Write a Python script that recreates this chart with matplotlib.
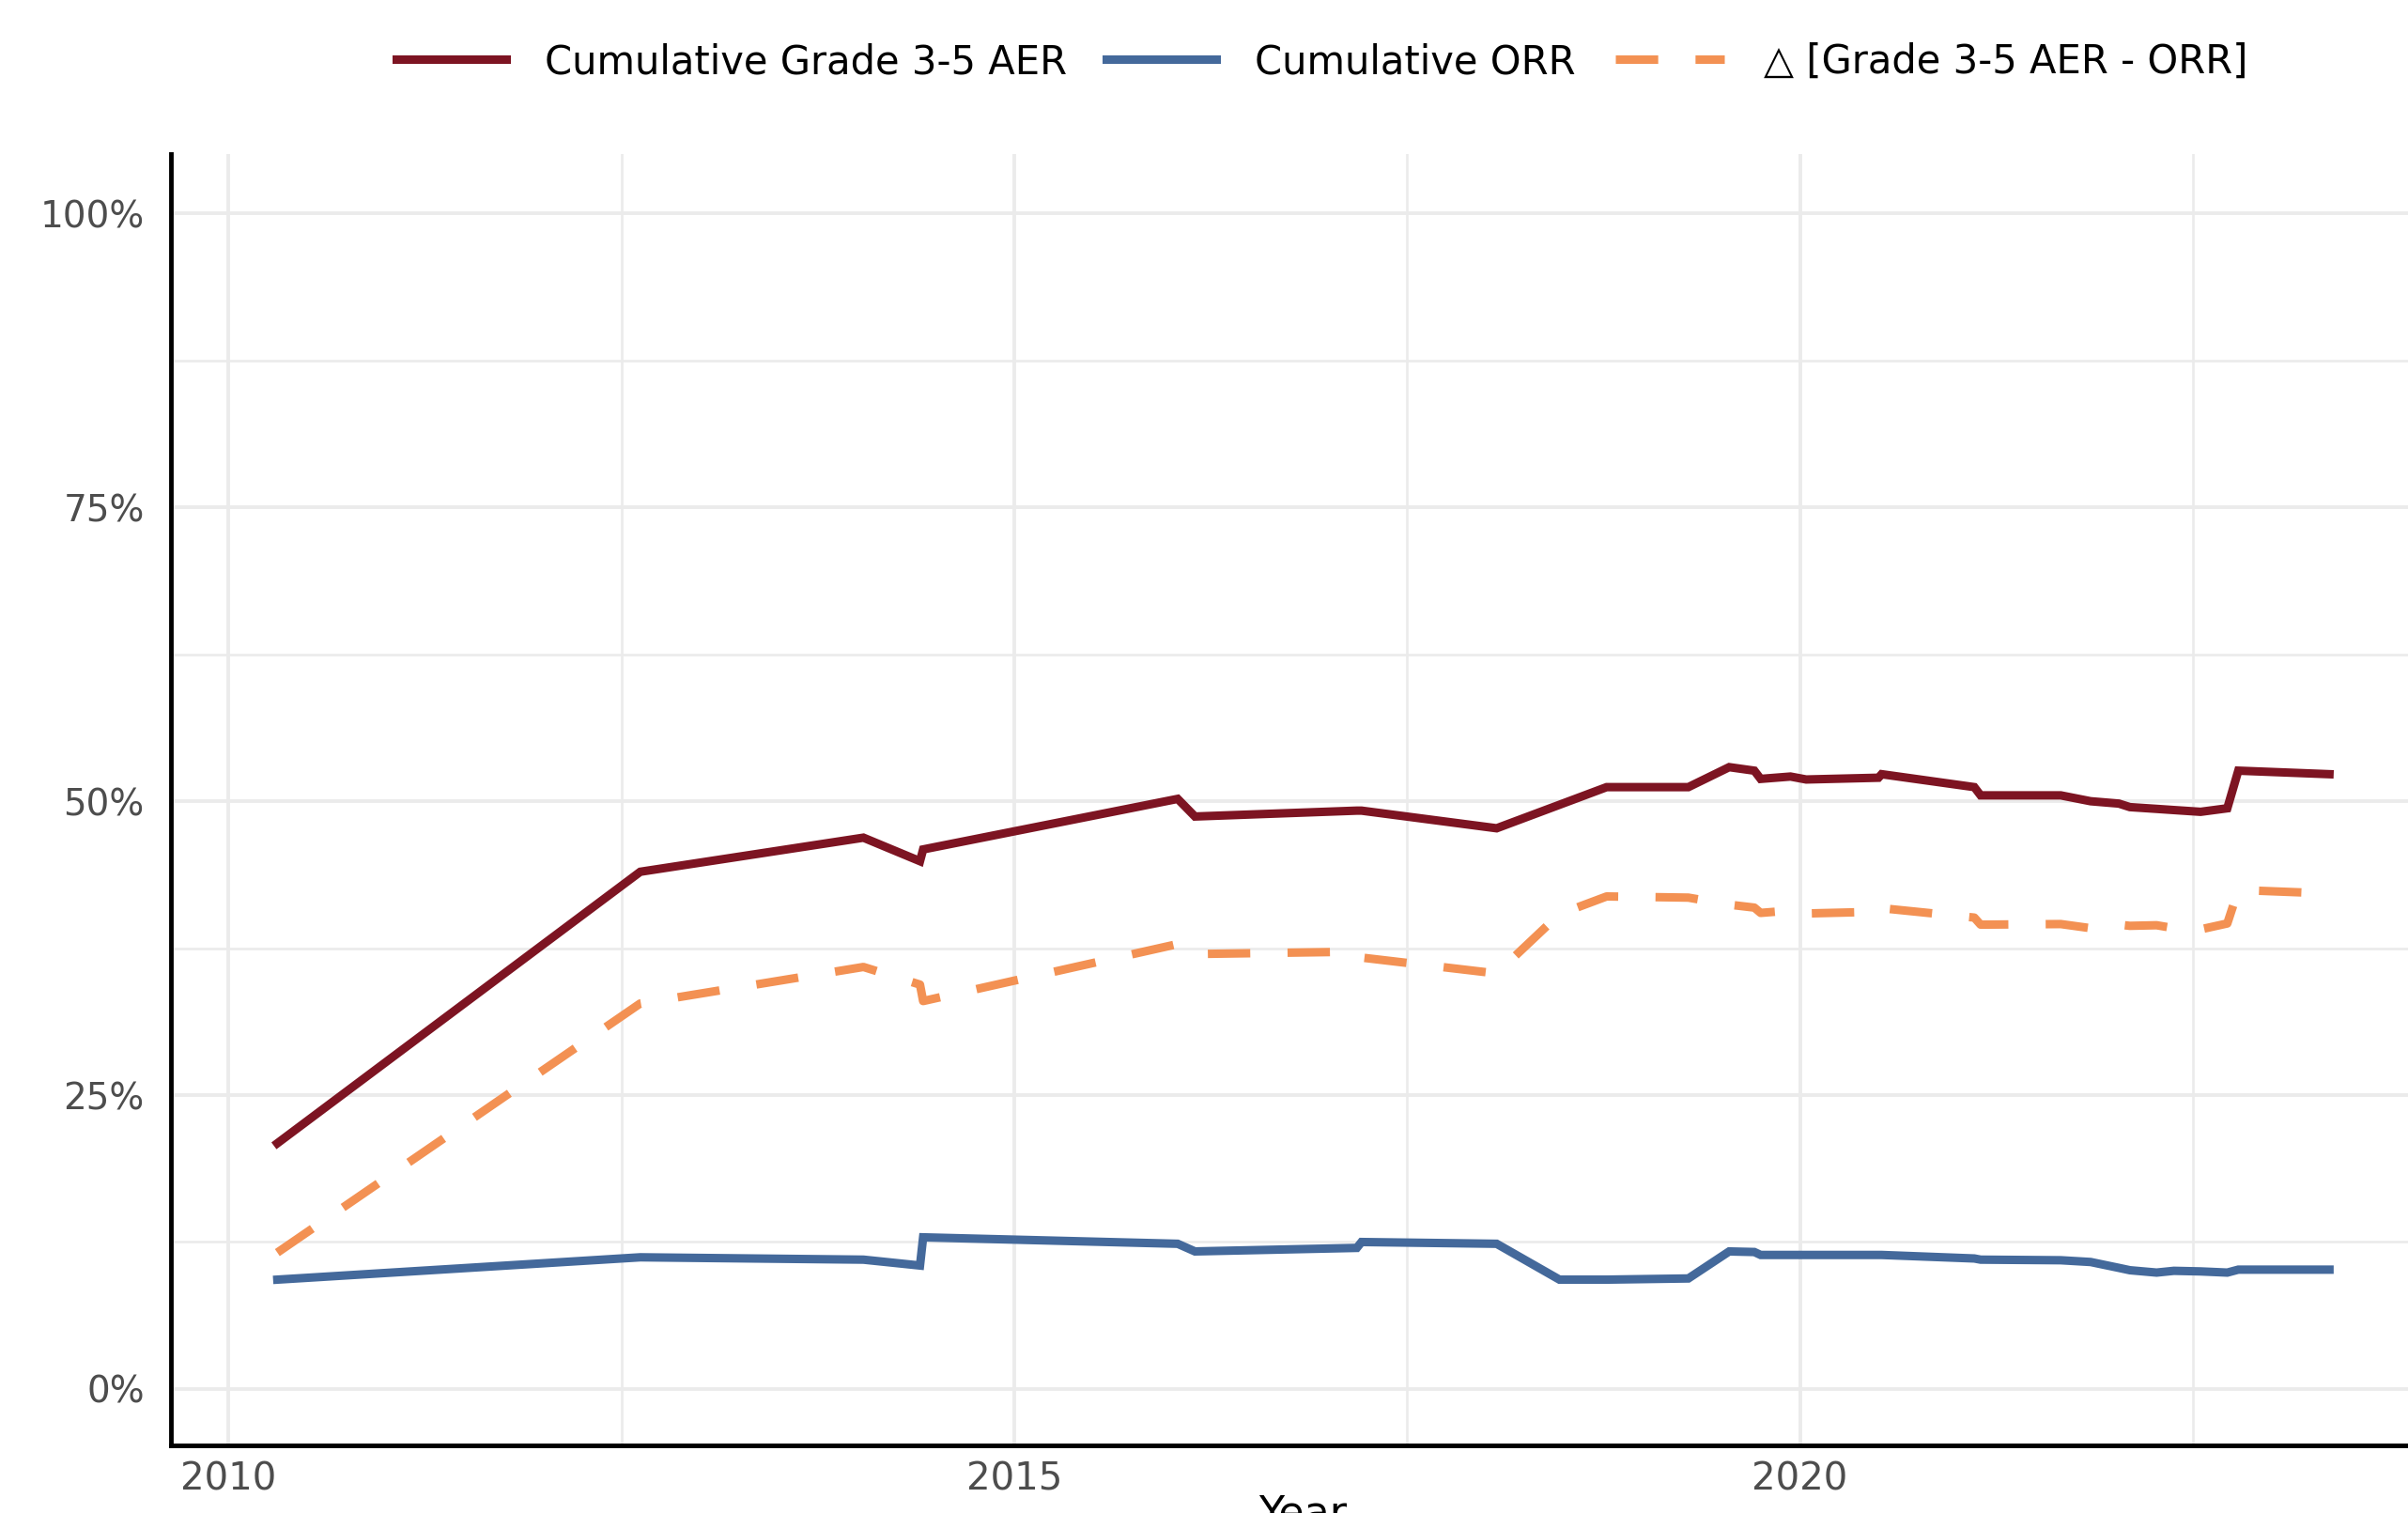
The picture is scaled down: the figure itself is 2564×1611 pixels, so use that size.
#!/usr/bin/env python3
# -*- coding: utf-8 -*-

import matplotlib
matplotlib.use('Agg')
import matplotlib.pyplot as plt
from matplotlib.ticker import FixedLocator, FuncFormatter

# Time points shared by the three series (decimal years)
years = [2010.31, 2012.62, 2014.04, 2014.40, 2014.42, 2016.04, 2016.15,
         2017.18, 2017.21, 2018.07, 2018.47, 2018.77, 2019.29, 2019.55,
         2019.71, 2019.75, 2019.94, 2020.04, 2020.50, 2020.52, 2021.11,
         2021.15, 2021.66, 2021.85, 2022.03, 2022.10, 2022.27, 2022.38,
         2022.55, 2022.72, 2022.79, 2023.37]

# Cumulative Grade 3-5 AER (%)
aer = [20.9, 44.0, 46.9, 44.9, 45.9, 50.2, 48.7,
       49.2, 49.2, 47.7, 49.7, 51.2, 51.2, 52.9,
       52.6, 51.9, 52.1, 51.85, 52.0, 52.3, 51.2,
       50.5, 50.5, 50.0, 49.8, 49.5, 49.35, 49.25,
       49.1, 49.4, 52.6, 52.3]

# Cumulative ORR (%)
orr = [9.3, 11.2, 11.0, 10.5, 12.9, 12.35, 11.7,
       12.0, 12.5, 12.35, 9.3, 9.3, 9.4, 11.7,
       11.65, 11.4, 11.4, 11.4, 11.4, 11.4, 11.1,
       11.0, 10.95, 10.8, 10.3, 10.1, 9.9, 10.05,
       10.0, 9.9, 10.15, 10.15]

# Difference AER - ORR (%)
delta = [11.6, 32.8, 35.9, 34.4, 33.0, 37.85, 37.0,
         37.2, 36.7, 35.35, 40.4, 41.9, 41.8, 41.2,
         40.95, 40.5, 40.7, 40.45, 40.6, 40.9, 40.1,
         39.5, 39.55, 39.2, 39.5, 39.4, 39.45, 39.2,
         39.1, 39.6, 42.45, 42.15]

x_ticks = [2010, 2015, 2020]
y_ticks = [0, 25, 50, 75, 100]

aer_color = "#7d1422"
orr_color = "#44699b"
delta_color = "#f39153"
grid_color = "#ebebeb"
label_color = "#4d4d4d"

fig = plt.figure(figsize=(25.64, 16.11), dpi=100)
ax = fig.add_axes([0.0708, 0.0447, 0.9292, 0.8538])

ax.plot(years, aer, color=aer_color, lw=6.5, solid_joinstyle="miter",
        label="Cumulative Grade 3-5 AER")
ax.plot(years, orr, color=orr_color, lw=6.5, solid_joinstyle="miter",
        label="Cumulative ORR")
ax.plot(years, delta, color=delta_color, lw=6.5, dashes=(5.0, 4.4),
        label="\u25b3 [Grade 3-5 AER - ORR]")

ax.set_xlim(2009.63, 2023.87)
ax.set_ylim(-4.8, 105.1)

ax.xaxis.set_major_locator(FixedLocator(x_ticks))
ax.xaxis.set_minor_locator(FixedLocator([2012.5, 2017.5, 2022.5]))
ax.yaxis.set_major_locator(FixedLocator(y_ticks))
ax.yaxis.set_minor_locator(FixedLocator([12.5, 37.5, 62.5, 87.5]))
ax.yaxis.set_major_formatter(FuncFormatter(lambda v, p: f"{v:.0f}%"))

ax.grid(which="major", color=grid_color, lw=2.8)
ax.grid(which="minor", color=grid_color, lw=1.9)
ax.set_axisbelow(True)

ax.tick_params(which="both", length=0)
ax.tick_params(axis="y", labelsize=28, labelcolor=label_color, pad=20)
ax.tick_params(axis="x", labelsize=29, labelcolor=label_color, pad=12)

for side in ["top", "right"]:
    ax.spines[side].set_visible(False)
for side in ["left", "bottom"]:
    ax.spines[side].set_linewidth(3.5)
    ax.spines[side].set_color("black")

fig.text(0.541, 0.013, "Year", fontsize=32, ha="center", va="top")

fig.legend(loc="center", bbox_to_anchor=(0.549, 0.959), ncol=3,
           frameon=False, fontsize=30, handlelength=2.8,
           handletextpad=1.0, columnspacing=1.0)

fig.savefig("out.png", dpi=100, facecolor="white")
